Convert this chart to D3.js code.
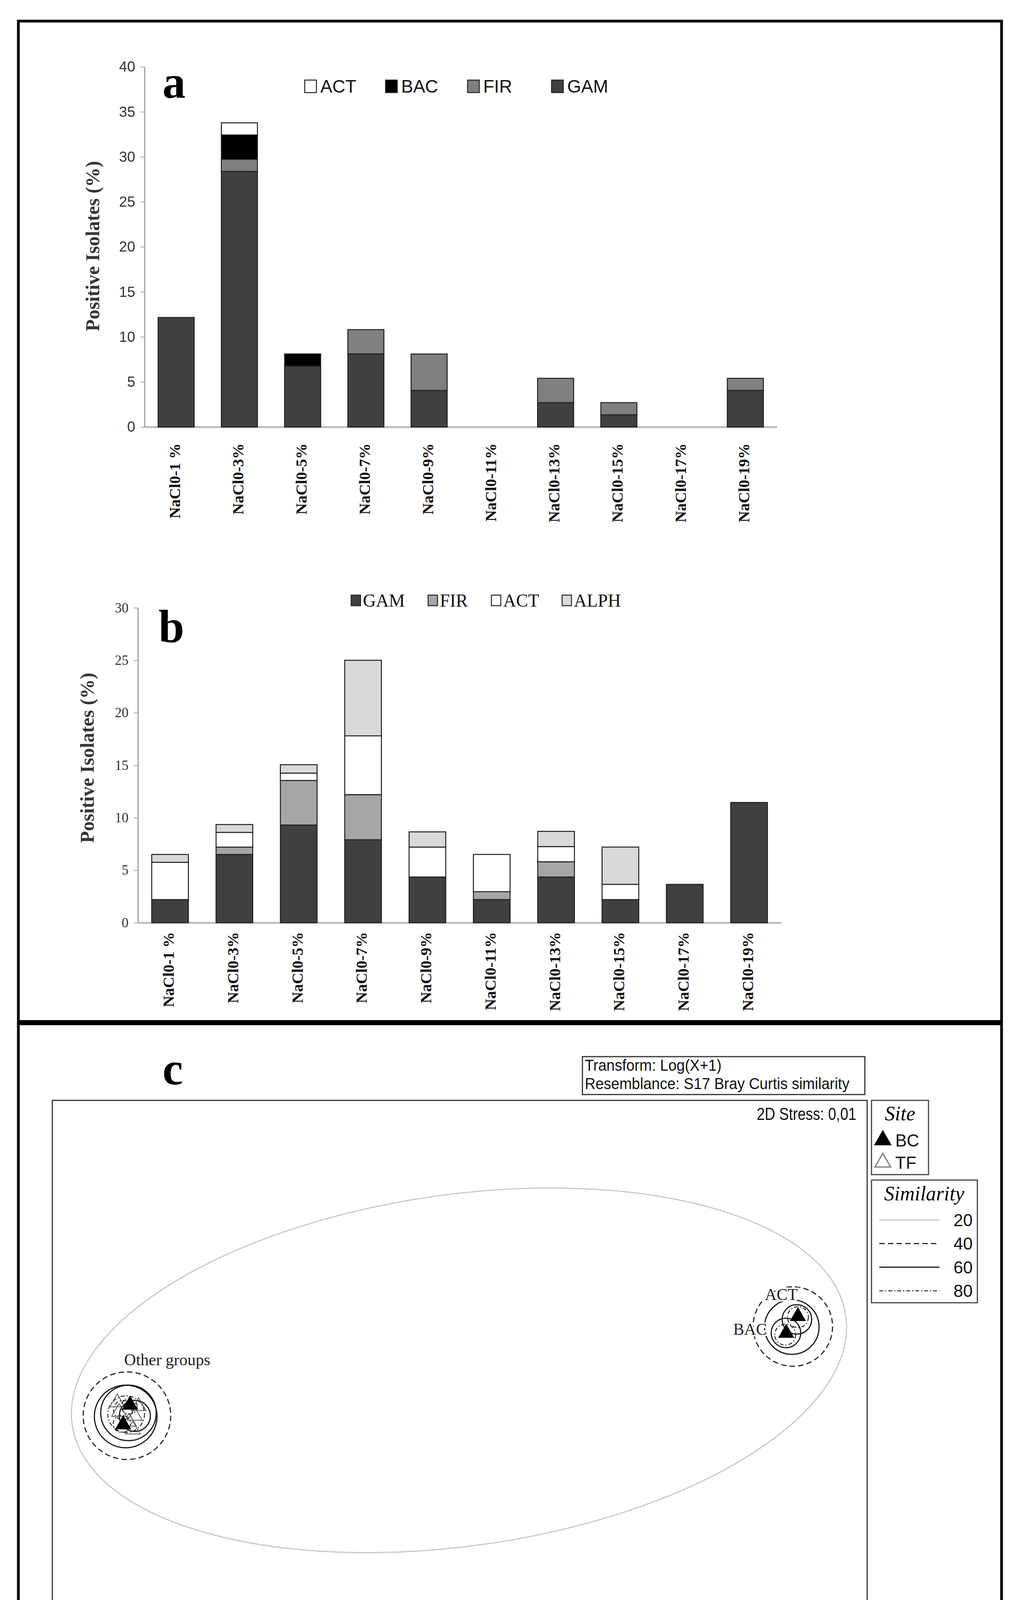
<!DOCTYPE html>
<meta charset="utf-8">
<script src="https://d3js.org/d3.v7.min.js"></script>
<style>
  body { margin: 0; background: #fff; }
  svg { display: block; }
</style>
<body>
<div id="fig"></div>
<script>

// ---------------- data ----------------
// x categories (same for panel a and b)
var categories = ["NaCl0-1 %", "NaCl0-3%", "NaCl0-5%", "NaCl0-7%", "NaCl0-9%",
                  "NaCl0-11%", "NaCl0-13%", "NaCl0-15%", "NaCl0-17%", "NaCl0-19%"];

// panel a : positive isolates (%) per group
var keysA   = ["GAM", "FIR", "BAC", "ACT"];          // stack order, bottom -> top
var legendA = ["ACT", "BAC", "FIR", "GAM"];
var gamA = [12.16, 28.38, 6.76, 8.11, 4.05, 0, 2.70, 1.35, 0, 4.05];
var firA = [0, 1.35, 0, 2.70, 4.05, 0, 2.70, 1.35, 0, 1.35];
var bacA = [0, 2.70, 1.35, 0, 0, 0, 0, 0, 0, 0];
var actA = [0, 1.35, 0, 0, 0, 0, 0, 0, 0, 0];
var ticksA = [0, 5, 10, 15, 20, 25, 30, 35, 40];

// panel b
var keysB   = ["GAM", "FIR", "ACT", "ALPH"];
var legendB = ["GAM", "FIR", "ACT", "ALPH"];
var gamB  = [2.2, 6.5, 9.3, 7.9, 4.35, 2.2, 4.35, 2.2, 3.65, 11.45];
var firB  = [0, 0.7, 4.25, 4.3, 0, 0.75, 1.45, 0, 0, 0];
var actB  = [3.55, 1.4, 0.7, 5.6, 2.85, 3.55, 1.45, 1.45, 0, 0];
var alphB = [0.75, 0.75, 0.8, 7.2, 1.45, 0, 1.45, 3.55, 0, 0];
var ticksB = [0, 5, 10, 15, 20, 25, 30];

// panel c : nMDS ordination (arbitrary MDS units)
var siteNames = ["BC", "TF"];
var simLevels = [20, 40, 60, 80];
var ptX    = [1.328, 1.282, -1.295, -1.322, -1.338, -1.276, -1.299, -1.261, -1.345, -1.284];
var ptY    = [0.218, 0.152, -0.130, -0.207, -0.158, -0.173, -0.196, -0.135, -0.120, -0.227];
var ptSite = ["BC", "BC", "BC", "BC", "TF", "TF", "TF", "TF", "TF", "TF"];
// similarity contours drawn as circles
var ringX   = [1.308, 1.304, 1.324, 1.281, 1.328, 1.278, -1.307, -1.312, -1.301, -1.310, -1.322, -1.276, -1.298, -1.327];
var ringY   = [0.178, 0.176, 0.206, 0.153, 0.215, 0.146, -0.172, -0.175, -0.161, -0.166, -0.150, -0.173, -0.135, -0.204];
var ringR   = [0.156, 0.107, 0.058, 0.058, 0.041, 0.041, 0.172, 0.123, 0.109, 0.072, 0.038, 0.061, 0.031, 0.034];
var ringLvl = [40, 60, 60, 60, 80, 80, 40, 60, 60, 80, 80, 60, 80, 80];
// the 20 % contour
var ellCX = -0.003, ellCY = 0.006, ellRX = 1.534, ellRY = 0.69, ellAngle = 8;
var groupLabels = ["ACT", "BAC", "Other groups"];
var groupLabX   = [1.198, 1.074, -1.318];
var groupLabY   = [0.282, 0.146, 0.026];

// ---------------- look ----------------
var serif = "'Liberation Serif', 'Times New Roman', serif";
var sans  = "'Liberation Sans', Arial, sans-serif";
var colA = {GAM: "#404040", FIR: "#808080", BAC: "#000000", ACT: "#ffffff"};
var colB = {GAM: "#404040", FIR: "#a6a6a6", ACT: "#ffffff", ALPH: "#d9d9d9"};
var lvlStyle = {
  20: {stroke: "#c8c8c8", dash: null,        w: 3},
  40: {stroke: "#2a2a2a", dash: "14,8",      w: 3},
  60: {stroke: "#1a1a1a", dash: null,        w: 3},
  80: {stroke: "#2a2a2a", dash: "10,5,3,5",  w: 2.5}
};

var svg = d3.select("#fig").append("svg")
    .attr("width", 2624)
    .attr("height", 4326);

svg.append("rect").attr("width", 2624).attr("height", 4326).attr("fill", "#fff");

// outer frames
svg.append("rect").attr("x", 47).attr("y", 54).attr("width", 2517).attr("height", 2561)
  .attr("fill", "none").attr("stroke", "#000").attr("stroke-width", 7);
svg.append("rect").attr("x", 47).attr("y", 2621).attr("width", 2517).attr("height", 1658)
  .attr("fill", "none").attr("stroke", "#000").attr("stroke-width", 7);

// ---------------- stacked bar panel ----------------
function barPanel(o) {
  var rows = categories.map(function(c, i) {
    var r = {cat: c};
    o.keys.forEach(function(k) { r[k] = o.values[k][i]; });
    return r;
  });

  var x = d3.scaleBand()
      .domain(categories)
      .range(o.xr)
      .paddingInner(0.43)
      .paddingOuter(0.215);
  var y = d3.scaleLinear()
      .domain([0, d3.max(o.ticks)])
      .range(o.yr);

  var g = svg.append("g");

  // x axis (plain grey baseline, rotated labels)
  var xa = g.append("g")
      .attr("transform", "translate(0," + o.yr[0] + ")")
      .call(d3.axisBottom(x).tickSize(0).tickSizeOuter(0));
  xa.select(".domain").attr("stroke", "#bdbdbd").attr("stroke-width", 5);
  xa.selectAll("text")
      .attr("transform", "rotate(-90)")
      .attr("text-anchor", "end")
      .attr("x", -o.labGap)
      .attr("y", -4)
      .attr("dy", "0.35em")
      .style("font-family", serif)
      .style("font-weight", "bold")
      .style("font-size", "40px")
      .attr("fill", "#111");

  // y axis
  var ya = g.append("g")
      .attr("transform", "translate(" + o.xr[0] + ",0)")
      .call(d3.axisLeft(y).tickValues(o.ticks).tickSize(10).tickSizeOuter(0).tickPadding(14));
  ya.select(".domain").attr("stroke", "#a0a0a0").attr("stroke-width", 3);
  ya.selectAll(".tick line").attr("stroke", "#a0a0a0").attr("stroke-width", 2);
  ya.selectAll("text")
      .style("font-family", o.tickFont)
      .style("font-size", o.tickSize)
      .attr("fill", "#333");

  // y title
  g.append("text")
      .attr("transform", "translate(" + o.titleX + "," + o.titleY + ") rotate(-90)")
      .attr("text-anchor", "middle")
      .attr("dy", "0.35em")
      .style("font-family", serif)
      .style("font-weight", "bold")
      .style("font-size", "50px")
      .attr("fill", "#353535")
      .text("Positive Isolates (%)");

  // bars
  var stacked = d3.stack().keys(o.keys)(rows);
  g.append("g")
    .selectAll("g")
    .data(stacked)
    .enter().append("g")
      .attr("fill", function(d) { return o.colors[d.key]; })
    .selectAll("rect")
    .data(function(d) { return d.filter(function(s) { return s[1] - s[0] > 0; }); })
    .enter().append("rect")
      .attr("x", function(d) { return x(d.data.cat); })
      .attr("y", function(d) { return y(d[1]); })
      .attr("height", function(d) { return y(d[0]) - y(d[1]); })
      .attr("width", x.bandwidth())
      .attr("stroke", "#1e1e1e")
      .attr("stroke-width", 2.5);

  // legend
  var lg = g.append("g").selectAll("g")
      .data(o.legend)
      .enter().append("g")
      .attr("transform", function(d, i) { return "translate(" + o.legX[i] + "," + o.legY + ")"; });
  lg.append("rect")
      .attr("x", 0).attr("y", -o.sw[1] / 2)
      .attr("width", o.sw[0]).attr("height", o.sw[1])
      .attr("fill", function(d) { return o.colors[d]; })
      .attr("stroke", "#222").attr("stroke-width", 2.5);
  lg.append("text")
      .attr("x", o.sw[0] + o.legPad)
      .attr("dy", "0.35em")
      .style("font-family", o.legFont)
      .style("font-size", o.legSize)
      .attr("fill", "#111")
      .text(function(d) { return d; });

  // panel letter
  g.append("text")
      .attr("x", o.letterX).attr("y", o.letterY)
      .style("font-family", serif)
      .style("font-weight", "bold")
      .style("font-size", "118px")
      .text(o.letter);
}

barPanel({
  keys: keysA, legend: legendA, colors: colA,
  values: {GAM: gamA, FIR: firA, BAC: bacA, ACT: actA},
  ticks: ticksA, xr: [370, 1989], yr: [1093, 171], labGap: 42,
  tickFont: sans, tickSize: "37px",
  titleX: 236, titleY: 630,
  legend: legendA, legX: [780, 987, 1197, 1412], legY: 221, sw: [30, 32], legPad: 10,
  legFont: sans, legSize: "46px",
  letter: "a", letterX: 416, letterY: 250
});

barPanel({
  keys: keysB, legend: legendB, colors: colB,
  values: {GAM: gamB, FIR: firB, ACT: actB, ALPH: alphB},
  ticks: ticksB, xr: [353, 2000], yr: [2362, 1556], labGap: 24,
  tickFont: serif, tickSize: "35px",
  titleX: 222, titleY: 1940,
  legend: legendB, legX: [899, 1096, 1258, 1439], legY: 1537, sw: [24, 27], legPad: 6,
  legFont: serif, legSize: "46px",
  letter: "b", letterX: 406, letterY: 1643
});

// ---------------- panel c : nMDS ----------------
var xC = d3.scaleLinear().domain([-1.6, 1.6]).range([134, 2220]);
var yC = d3.scaleLinear().domain([-1.066, 1.066]).range([4207, 2817]);
var gc = svg.append("g");

gc.append("rect")
    .attr("x", xC(-1.6)).attr("y", yC(1.066))
    .attr("width", xC(1.6) - xC(-1.6)).attr("height", yC(-1.066) - yC(1.066))
    .attr("fill", "none").attr("stroke", "#333").attr("stroke-width", 3);

gc.append("text")
    .attr("x", 416).attr("y", 2776)
    .style("font-family", serif).style("font-weight", "bold").style("font-size", "118px")
    .text("c");

// transform / resemblance box
gc.append("rect").attr("x", 1491).attr("y", 2705).attr("width", 723).attr("height", 97)
  .attr("fill", "none").attr("stroke", "#333").attr("stroke-width", 3);
["Transform: Log(X+1)", "Resemblance: S17 Bray Curtis similarity"].forEach(function(t, i) {
  gc.append("g").attr("transform", "translate(1497," + (2741 + i * 47) + ") scale(0.95,1)")
    .append("text")
      .style("font-family", sans).style("font-size", "40px").attr("fill", "#111")
      .text(t);
});
gc.append("g").attr("transform", "translate(2192,2867) scale(0.84,1)")
  .append("text")
    .attr("text-anchor", "end")
    .style("font-family", sans).style("font-size", "44px").attr("fill", "#111")
    .text("2D Stress: 0,01");

// 20 % contour
var ecx = xC(ellCX), ecy = yC(ellCY);
gc.append("ellipse")
    .attr("cx", ecx).attr("cy", ecy)
    .attr("rx", xC(ellRX) - xC(0)).attr("ry", yC(0) - yC(ellRY))
    .attr("transform", "rotate(" + (-ellAngle) + "," + ecx + "," + ecy + ")")
    .attr("fill", "none")
    .attr("stroke", lvlStyle[20].stroke).attr("stroke-width", lvlStyle[20].w);

// higher similarity contours
gc.append("g").selectAll("circle")
    .data(ringX.map(function(v, i) { return {x: v, y: ringY[i], r: ringR[i], lvl: ringLvl[i]}; }))
    .enter().append("circle")
      .attr("cx", function(d) { return xC(d.x); })
      .attr("cy", function(d) { return yC(d.y); })
      .attr("r", function(d) { return xC(d.r) - xC(0); })
      .attr("fill", "none")
      .attr("stroke", function(d) { return lvlStyle[d.lvl].stroke; })
      .attr("stroke-width", function(d) { return lvlStyle[d.lvl].w; })
      .attr("stroke-dasharray", function(d) { return lvlStyle[d.lvl].dash; });

// samples
var tri = d3.symbol().type(d3.symbolTriangle).size(620);
var pts = ptX.map(function(v, i) { return {x: v, y: ptY[i], site: ptSite[i]}; });
pts.sort(function(a, b) { return a.site === "TF" ? -1 : 1; });
gc.append("g").selectAll("path")
    .data(pts)
    .enter().append("path")
      .attr("d", tri)
      .attr("transform", function(d) { return "translate(" + xC(d.x) + "," + yC(d.y) + ")"; })
      .attr("fill", function(d) { return d.site === "BC" ? "#000" : "none"; })
      .attr("stroke", function(d) { return d.site === "BC" ? "#000" : "#555"; })
      .attr("stroke-width", 2);

// group labels, with a white halo so the contours stop at the text
gc.append("g").selectAll("text")
    .data(groupLabels)
    .enter().append("text")
      .attr("x", function(d, i) { return xC(groupLabX[i]); })
      .attr("y", function(d, i) { return yC(groupLabY[i]); })
      .style("font-family", serif).style("font-size", "42px").attr("fill", "#222")
      .attr("stroke", "#fff").attr("stroke-width", 8).attr("paint-order", "stroke")
      .text(function(d) { return d; });

// site legend
gc.append("rect").attr("x", 2231).attr("y", 2817).attr("width", 146).attr("height", 190)
  .attr("fill", "#fff").attr("stroke", "#444").attr("stroke-width", 3);
gc.append("text").attr("x", 2304).attr("y", 2868).attr("text-anchor", "middle")
  .style("font-family", serif).style("font-style", "italic").style("font-size", "52px")
  .text("Site");
var sl = gc.append("g").selectAll("g")
    .data(siteNames)
    .enter().append("g")
    .attr("transform", function(d, i) { return "translate(2260," + (2919 + i * 57) + ")"; });
sl.append("path")
    .attr("d", d3.symbol().type(d3.symbolTriangle).size(700))
    .attr("fill", function(d) { return d === "BC" ? "#000" : "none"; })
    .attr("stroke", function(d) { return d === "BC" ? "#000" : "#777"; })
    .attr("stroke-width", 3);
sl.append("text").attr("x", 32).attr("dy", "0.36em")
    .style("font-family", sans).style("font-size", "44px").attr("fill", "#111")
    .text(function(d) { return d; });

// similarity legend
gc.append("rect").attr("x", 2231).attr("y", 3021).attr("width", 271).attr("height", 314)
  .attr("fill", "#fff").attr("stroke", "#444").attr("stroke-width", 3);
gc.append("text").attr("x", 2366).attr("y", 3073).attr("text-anchor", "middle")
  .style("font-family", serif).style("font-style", "italic").style("font-size", "52px")
  .text("Similarity");
var ll = gc.append("g").selectAll("g")
    .data(simLevels)
    .enter().append("g")
    .attr("transform", function(d, i) { return "translate(0," + (3123 + i * 60.5) + ")"; });
ll.append("line")
    .attr("x1", 2251).attr("x2", 2405)
    .attr("stroke", function(d) { return lvlStyle[d].stroke; })
    .attr("stroke-width", function(d) { return lvlStyle[d].w; })
    .attr("stroke-dasharray", function(d) { return lvlStyle[d].dash; });
ll.append("text").attr("x", 2490).attr("dy", "0.36em").attr("text-anchor", "end")
    .style("font-family", sans).style("font-size", "44px").attr("fill", "#111")
    .text(function(d) { return d; });

</script>
</body>
